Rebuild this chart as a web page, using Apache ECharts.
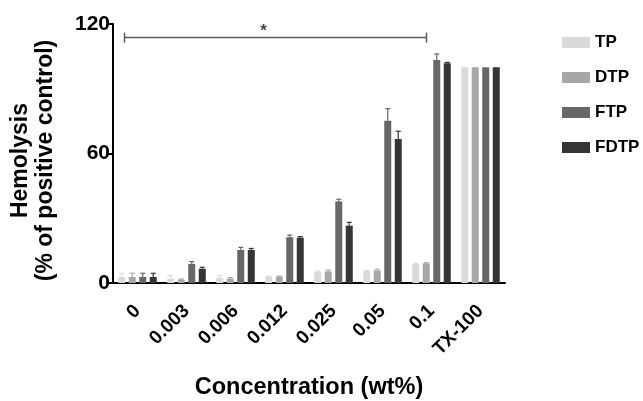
<!DOCTYPE html>
<html>
<head>
<meta charset="utf-8">
<script src="https://cdn.jsdelivr.net/npm/echarts@6/dist/echarts.min.js"></script>
<style>html,body{margin:0;padding:0;background:#fff}#c{width:643px;height:401px}</style>
</head>
<body>
<div id="c"></div>
<script>
const categories = ['0', '0.003', '0.006', '0.012', '0.025', '0.05', '0.1', 'TX-100'];
const seriesNames = ['TP', 'DTP', 'FTP', 'FDTP'];
const tpValues   = [2.8, 2.0, 2.5, 2.9, 5.2, 5.5, 8.8, 100];
const dtpValues  = [2.8, 1.5, 2.0, 2.9, 5.4, 5.8, 9.1, 100];
const ftpValues  = [2.8, 8.8, 15.3, 21.2, 37.8, 75.2, 103.3, 100];
const fdtpValues = [2.8, 6.6, 15.3, 21.0, 26.6, 66.7, 101.8, 100];
const tpErr   = [1.7, 1.5, 1.0, 0.3, 0.3, 0.3, 0.3, 0];
const dtpErr  = [1.7, 0.3, 0.5, 0.3, 0.6, 0.6, 0.3, 0];
const ftpErr  = [1.7, 1.1, 1.2, 1.0, 1.0, 5.6, 2.8, 0];
const fdtpErr = [1.7, 0.7, 0.7, 0.5, 1.5, 3.6, 0.4, 0];
const yTicks = [0, 60, 120];
const bracketStart = '0', bracketEnd = '0.1', bracketValue = 113.7, bracketLabel = '*';

const values = [tpValues, dtpValues, ftpValues, fdtpValues];
const errs = [tpErr, dtpErr, ftpErr, fdtpErr];
const colors = ['#dadada', '#a7a7a7', '#676767', '#353535'];
const barWidth = 7, barGapPx = 3.5;
const FONT = '"Liberation Sans", Arial, sans-serif';

const barSeries = seriesNames.map((n, i) => ({
  name: n, type: 'bar', data: values[i], barWidth: barWidth, barGap: '50%',
  itemStyle: { color: colors[i] }, z: 2
}));

const errSeries = seriesNames.map((n, i) => {
  const offset = (i - 1.5) * (barWidth + barGapPx);
  return {
    type: 'custom', name: n + ' err', z: 3, silent: true,
    data: categories.map((c, k) => [k, values[i][k], errs[i][k]]),
    renderItem: function (params, api) {
      const k = api.value(0), v = api.value(1), e = api.value(2);
      if (!e) return null;
      const top = api.coord([k, v + e]);
      const base = api.coord([k, v]);
      const x = top[0] + offset;
      return {
        type: 'group', children: [
          { type: 'line', shape: { x1: x, y1: base[1], x2: x, y2: top[1] }, style: { stroke: colors[i], lineWidth: 1.2 } },
          { type: 'line', shape: { x1: x - 2.5, y1: top[1], x2: x + 2.5, y2: top[1] }, style: { stroke: colors[i], lineWidth: 1.2 } }
        ]
      };
    }
  };
});

const bracketSeries = {
  type: 'custom', z: 4, silent: true,
  data: [[categories.indexOf(bracketStart), categories.indexOf(bracketEnd), bracketValue]],
  renderItem: function (params, api) {
    const p1 = api.coord([api.value(0), api.value(2)]);
    const p2 = api.coord([api.value(1), api.value(2)]);
    const x1 = p1[0] - 13, x2 = p2[0] - 5, y = p1[1];
    const st = { stroke: '#5a5a5a', lineWidth: 1.5 };
    return {
      type: 'group', children: [
        { type: 'line', shape: { x1: x1, y1: y, x2: x2, y2: y }, style: st },
        { type: 'line', shape: { x1: x1, y1: y - 5, x2: x1, y2: y + 5 }, style: st },
        { type: 'line', shape: { x1: x2, y1: y - 5, x2: x2, y2: y + 5 }, style: st },
        { type: 'text', x: (x1 + x2) / 2 - 12, y: y - 6, style: { text: bracketLabel, fill: '#444', font: 'bold 17px ' + FONT, align: 'center', verticalAlign: 'middle' } }
      ]
    };
  }
};

const chart = echarts.init(document.getElementById('c'), null, { renderer: 'canvas' });
chart.setOption({
  animation: false,
  backgroundColor: '#fff',
  grid: { left: 113, right: 138, top: 24, bottom: 118, containLabel: false, outerBoundsMode: 'none' },
  legend: {
    orient: 'vertical', left: 562, top: 34, padding: 0, data: seriesNames,
    itemWidth: 28, itemHeight: 11, itemGap: 18, icon: 'rect',
    textStyle: { fontFamily: FONT, fontWeight: 'bold', fontSize: 17, color: '#000', lineHeight: 16 }
  },
  xAxis: {
    type: 'category', data: categories,
    name: 'Concentration (wt%)', nameLocation: 'middle', nameGap: 93,
    nameTextStyle: { fontFamily: FONT, fontWeight: 'bold', fontSize: 23.5, color: '#000' },
    axisLine: { lineStyle: { color: '#000', width: 2 } },
    axisTick: { alignWithLabel: true, length: 7, lineStyle: { color: '#000', width: 2 } },
    axisLabel: { rotate: 45, margin: 25, interval: 0, fontFamily: FONT, fontWeight: 'bold', fontSize: 19, color: '#000' }
  },
  yAxis: {
    type: 'value', min: yTicks[0], max: yTicks[yTicks.length - 1], interval: yTicks[1] - yTicks[0],
    name: 'Hemolysis\n(% of positive control)', nameLocation: 'middle', nameGap: 55, nameRotate: 90,
    nameTextStyle: { fontFamily: FONT, fontWeight: 'bold', fontSize: 23, color: '#000', lineHeight: 25, padding: [0, 14, 0, 0] },
    axisLine: { show: true, lineStyle: { color: '#000', width: 2 } },
    axisTick: { show: true, length: 6, lineStyle: { color: '#000', width: 2 } },
    splitLine: { show: false },
    axisLabel: { margin: 3, fontFamily: FONT, fontWeight: 'bold', fontSize: 21, color: '#000' }
  },
  series: barSeries.concat(errSeries, [bracketSeries])
});
</script>
</body>
</html>
